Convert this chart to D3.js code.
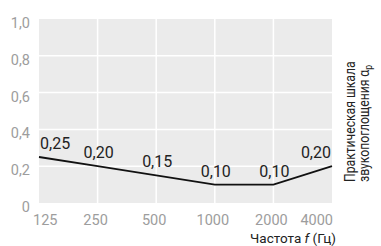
<!DOCTYPE html>
<html>
<head>
<meta charset="utf-8">
<script src="https://cdn.jsdelivr.net/npm/d3@7"></script>
<style>
  body { margin: 0; background: #fff; }
  text { font-family: Roboto, "Liberation Sans", Arial, sans-serif; }
</style>
</head>
<body>
<div id="chart"></div>
<script>
// frequency bands (Hz) and practical absorption coefficient
var freqs = [125, 250, 500, 1000, 2000, 4000];
var alphaP = [0.25, 0.20, 0.15, 0.10, 0.10, 0.20];
var valueLabels = ["0,25", "0,20", "0,15", "0,10", "0,10", "0,20"];
var yTicks = [0, 0.2, 0.4, 0.6, 0.8, 1.0];
var yTickLabels = ["0", "0,2", "0,4", "0,6", "0,8", "1,0"];

var width = 381, height = 246;
var margin = {top: 19, right: 49, bottom: 43, left: 39};

var svg = d3.select("#chart").append("svg")
  .attr("width", width)
  .attr("height", height);

var x = d3.scaleLog().base(2)
  .domain([125, 4000])
  .range([margin.left, width - margin.right]);
var y = d3.scaleLinear()
  .domain([0, 1])
  .range([height - margin.bottom, margin.top]);

// plot background
svg.append("rect")
  .attr("x", x(125)).attr("y", y(1))
  .attr("width", x(4000) - x(125))
  .attr("height", y(0) - y(1))
  .attr("fill", "#ebebeb");

// grid
svg.append("g").selectAll("line")
  .data(yTicks.slice(1, -1))
  .enter().append("line")
  .attr("x1", x(125)).attr("x2", x(4000))
  .attr("y1", function(d){ return y(d); })
  .attr("y2", function(d){ return y(d); })
  .attr("stroke", "#fff").attr("stroke-width", 1.5);

svg.append("g").selectAll("line")
  .data(freqs.slice(1, -1))
  .enter().append("line")
  .attr("x1", function(d){ return x(d); })
  .attr("x2", function(d){ return x(d); })
  .attr("y1", y(0)).attr("y2", y(1))
  .attr("stroke", "#fff").attr("stroke-width", 1.5);

// y tick labels
svg.append("g").selectAll("text")
  .data(yTicks)
  .enter().append("text")
  .attr("x", 30)
  .attr("y", function(d){ return y(d) + 9; })
  .attr("text-anchor", "end")
  .attr("font-size", 14.5)
  .attr("fill", "#9d9d9d")
  .text(function(d, i){ return yTickLabels[i]; });

// x tick labels
svg.append("g").selectAll("text")
  .data(freqs)
  .enter().append("text")
  .attr("x", function(d, i){
    if (i == 0) return x(d) - 6;
    if (i == freqs.length - 1) return x(d) + 1;
    return x(d) - 2;
  })
  .attr("y", 225)
  .attr("text-anchor", function(d, i){
    if (i == 0) return "start";
    if (i == freqs.length - 1) return "end";
    return "middle";
  })
  .attr("font-size", 14.5)
  .attr("fill", "#9d9d9d")
  .text(function(d){ return d; });

// the curve
var line = d3.line()
  .x(function(d){ return x(d[0]); })
  .y(function(d){ return y(d[1]); });

svg.append("path")
  .datum(d3.zip(freqs, alphaP))
  .attr("d", line)
  .attr("fill", "none")
  .attr("stroke", "#111")
  .attr("stroke-width", 1.8);

// value labels
svg.append("g").selectAll("text")
  .data(d3.zip(freqs, alphaP))
  .enter().append("text")
  .attr("x", function(d, i){
    if (i == 0) return x(d[0]) + 1;
    if (i == freqs.length - 1) return x(d[0]) - 1;
    return x(d[0]) + 1;
  })
  .attr("y", function(d){ return y(d[1]) - 8; })
  .attr("text-anchor", function(d, i){
    if (i == 0) return "start";
    if (i == freqs.length - 1) return "end";
    return "middle";
  })
  .attr("font-size", 16)
  .attr("fill", "#222")
  .text(function(d, i){ return valueLabels[i]; });

// x axis title
var xt = svg.append("text")
  .attr("x", 336).attr("y", 243)
  .attr("text-anchor", "end")
  .attr("font-size", 13.5)
  .attr("fill", "#222");
xt.append("tspan").text("Частота ");
xt.append("tspan").attr("font-style", "italic").text("f");
xt.append("tspan").text(" (Гц)");

// right side title, rotated and a bit condensed
var rt = svg.append("g")
  .attr("transform", "translate(355,182) rotate(-90) scale(0.87,1)");
rt.append("text")
  .attr("font-size", 14)
  .attr("fill", "#222")
  .text("Практическая шкала");
var rt2 = rt.append("text")
  .attr("y", 14)
  .attr("font-size", 14)
  .attr("fill", "#222");
rt2.append("tspan").text("звукопоглощения α");
rt2.append("tspan").attr("font-size", 10).attr("dy", 3).text("p");
</script>
</body>
</html>
